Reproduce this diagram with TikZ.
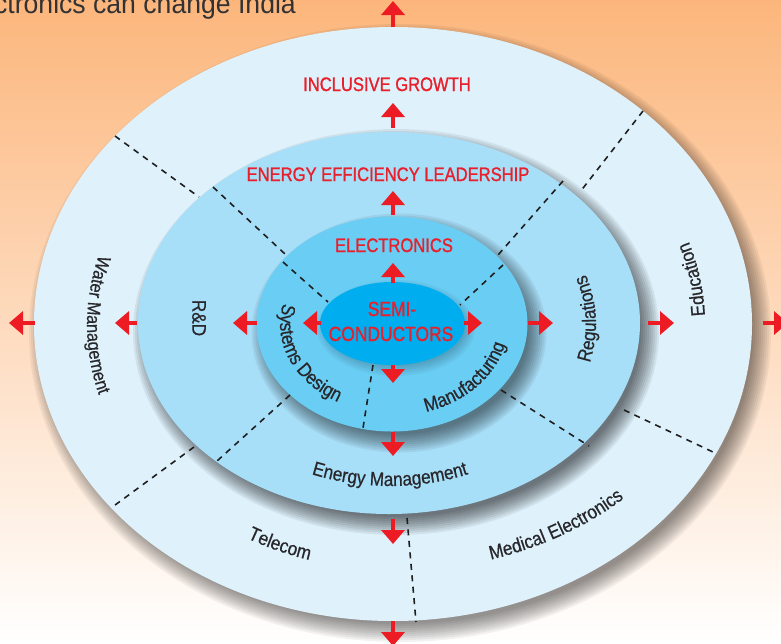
\documentclass[tikz,border=0pt]{standalone}
\usepackage{fontspec}
\setmainfont{Liberation Sans}
\newfontfamily\redfont{Liberation Sans}[FakeStretch=0.85,FakeBold=1.2]
\newfontfamily\labfont{Liberation Sans}[FakeStretch=0.88,FakeBold=0.6]
\newfontfamily\ttlfont{Liberation Sans}[FakeStretch=0.95]
\usetikzlibrary{arrows.meta,decorations.text}
\definecolor{bgtop}{RGB}{252,182,124}
\definecolor{bgmid}{RGB}{254,220,192}
\definecolor{ringA}{RGB}{223,242,252}
\definecolor{ringB}{RGB}{168,223,248}
\definecolor{ringC}{RGB}{106,205,244}
\definecolor{ringD}{RGB}{0,174,239}
\definecolor{arrowred}{RGB}{237,28,36}
\definecolor{textred}{RGB}{232,32,44}
\definecolor{labgray}{RGB}{40,40,44}
\definecolor{titlegray}{RGB}{50,50,52}
\newcommand\softshadow[5]{%
  \foreach \k in {0,...,9}{%
    \fill[black, opacity=#5] ({#1+7},{#2+9}) ellipse [x radius={#3-6+2*\k}, y radius={#4-6+2*\k}];
  }%
}
\newcommand\labsize{\labfont\fontsize{19.5}{19.5}\selectfont\color{labgray}}
\newcommand\labsmall{\labfont\fontsize{18.5}{18.5}\selectfont\color{labgray}}
\begin{document}
\begin{tikzpicture}[x=1pt,y=-1pt,
  redarrow/.style={draw=arrowred, line width=4.5pt, -{Triangle[width=23pt,length=14pt]}},
  divider/.style={draw=black!88, line width=1.6pt, dash pattern=on 6pt off 5.5pt},
  redlabel/.style={text=textred, inner sep=0pt, anchor=base, font=\redfont\fontsize{19.5}{20}\selectfont},
  corelabel/.style={text=textred, inner sep=0pt, anchor=base, font=\redfont\fontsize{20.5}{21}\selectfont},
  straightlab/.style={text=labgray, inner sep=0pt, font=\labfont\fontsize{19.5}{19.5}\selectfont},
  titletext/.style={text=titlegray, inner sep=0pt, anchor=base east, font=\ttlfont\fontsize{28}{28}\selectfont}
]
\useasboundingbox (0,0) rectangle (781,643);
% background
\shade[top color=bgtop, middle color=bgmid, bottom color=white] (0,0) rectangle (781,643);
\node[titletext] (title) at (296,13) {ctronics can change India};

% outer ellipse
\softshadow{393}{324}{359}{297}{0.05}
\fill[ringA] (393,324) ellipse [x radius=359, y radius=297];
% second ellipse
\softshadow{389}{323}{251}{191}{0.065}
\fill[ringB] (389,323) ellipse [x radius=251, y radius=191];
% third ellipse
\softshadow{392}{324}{135.5}{107.5}{0.06}
\fill[ringC] (392,324) ellipse [x radius=135.5, y radius=107.5];
% inner ellipse
\foreach \k in {0,...,5}{\fill[black, opacity=0.035] (396,328) ellipse [x radius={69+2*\k}, y radius={38+2*\k}];}
\fill[ringD] (392.5,323.5) ellipse [x radius=72.5, y radius=41.5];

% dividers
\draw[divider] (115,136) -- (199,197);
\draw[divider] (213,187) -- (285,254);
\draw[divider] (283,262) -- (328,302);
\draw[divider] (643,111) -- (580,192);
\draw[divider] (563,181) -- (498,255);
\draw[divider] (503,265) -- (460,305);
\draw[divider] (290,395) -- (217,461);
\draw[divider] (194,447) -- (111,508);
\draw[divider] (373,365) -- (363,428);
\draw[divider] (407,518) -- (416,622);
\draw[divider] (501,390) -- (589,446);
\draw[divider] (624,410) -- (713,452);

% arrows
\foreach \n/\ax/\ay/\bx/\by in {
  uA/393/27/393/1, uB/393/128/393/103, uC/393/215/393/191, uD/393/283/393/263,
  lA/35/323/9/323, lB/137/323/115/323, lC/257/323/233/323, lD/321/323/303/323,
  rA/763/323/788/323, rB/648/323/674/323, rC/528/323/553/323, rD/464/323/482/323,
  dA/393/365/393/383, dB/393/432/393/456, dC/393/519/393/544, dD/393/621/393/646}{
  \coordinate (\n t) at (\ax,\ay);
  \coordinate (\n h) at (\bx,\by);
  \draw[redarrow] (\n t) -- (\n h);
}

% red labels
\node[redlabel] (incl) at (387,91) {INCLUSIVE GROWTH};
\node[redlabel] (eel) at (388,181) {ENERGY EFFICIENCY LEADERSHIP};
\node[redlabel] (elec) at (394,252) {ELECTRONICS};
\node[corelabel] (semi) at (392,316) {SEMI-};
\node[corelabel] (cond) at (391,341) {CONDUCTORS};

% straight label
\node[straightlab, rotate=-90] (rnd) at (199,318) {R\&D};

% curved labels
\path[decorate, decoration={text along path, text align=center, text={|\labsize|Energy Management}}]
  plot[domain=130:50, samples=60, variable=\t] ({390+208*cos(\t)},{325+161*sin(\t)});
\path[decorate, decoration={text along path, text align=center, text={|\labsize|Telecom}}]
  plot[domain=126:100, samples=40, variable=\t] ({393+297*cos(\t)},{324+246*sin(\t)});
\path[decorate, decoration={text along path, text align=center, text={|\labsize|Medical Electronics}}]
  plot[domain=82:34, samples=50, variable=\t] ({393+326*cos(\t)},{324+247*sin(\t)});
\path[decorate, decoration={text along path, text align=center, text={|\labsmall|Water Management}}]
  plot[domain=208:152, samples=50, variable=\t] ({393+306*cos(\t)},{325+254*sin(\t)});
\path[decorate, decoration={text along path, text align=center, text={|\labsize|Systems Design}}]
  plot[domain=204:110, samples=60, variable=\t] ({392+112*cos(\t)},{324+89*sin(\t)});
\path[decorate, decoration={text along path, text align=center, text={|\labsize|Manufacturing}}]
  plot[domain=80:4, samples=60, variable=\t] ({392+116*cos(\t)},{324+92*sin(\t)});
\path[decorate, decoration={text along path, text align=center, text={|\labsize|Regulations}}]
  plot[domain=22:-26, samples=50, variable=\t] ({390+206*cos(\t)},{324+158*sin(\t)});
\path[decorate, decoration={text along path, text align=center, text={|\labsize|Education}}]
  plot[domain=10:-30, samples=50, variable=\t] ({393+312*cos(\t)},{324+259*sin(\t)});
\end{tikzpicture}
\end{document}
